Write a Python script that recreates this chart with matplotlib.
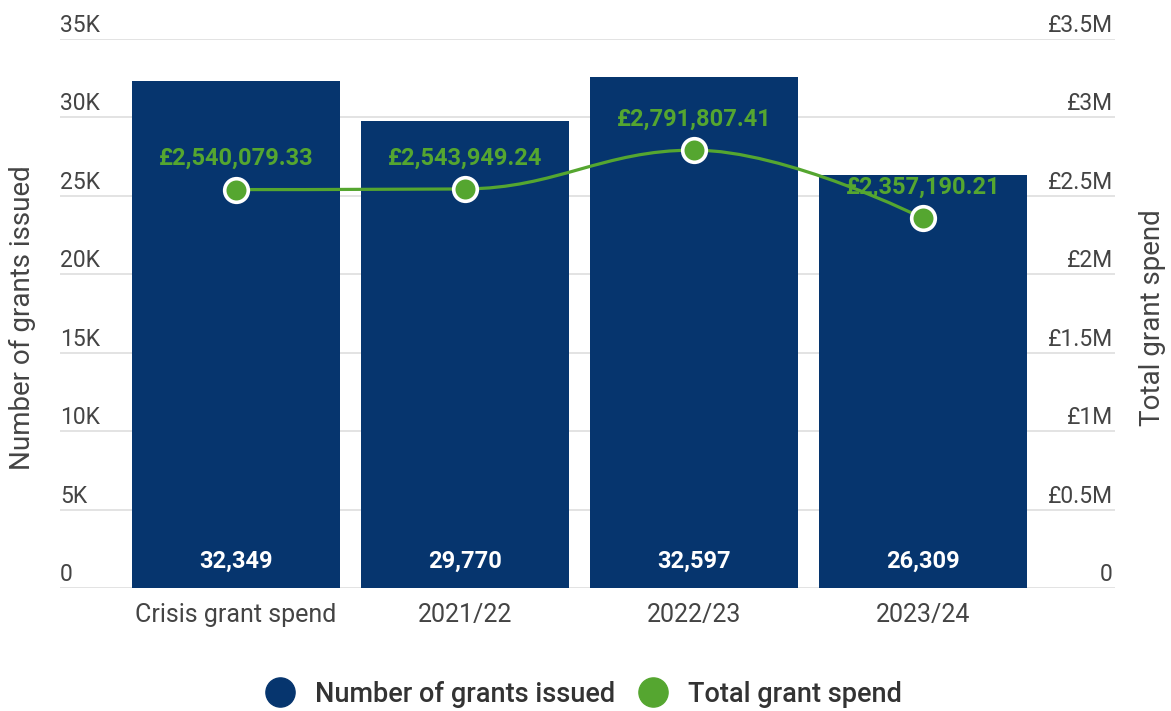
import numpy as np
import matplotlib.pyplot as plt
from matplotlib.path import Path
from matplotlib.patches import PathPatch
from matplotlib.lines import Line2D
import matplotlib.transforms as mtransforms

plt.rcParams['font.family'] = ['Roboto', 'DejaVu Sans']

categories = ['Crisis grant spend', '2021/22', '2022/23', '2023/24']
grants_issued = [32349, 29770, 32597, 26309]
grant_spend = [2540079.33, 2543949.24, 2791807.41, 2357190.21]

left_ticks = [0, 5000, 10000, 15000, 20000, 25000, 30000, 35000]
left_labels = ['0', '5K', '10K', '15K', '20K', '25K', '30K', '35K']
right_ticks = [0, 500000, 1000000, 1500000, 2000000, 2500000, 3000000, 3500000]
right_labels = ['0', '£0.5M', '£1M', '£1.5M', '£2M', '£2.5M', '£3M', '£3.5M']

BAR = '#06356e'
GREEN = '#55a630'
TXT = '#444444'


def spline_path(xs, ys, smoothing=1.5):
    # highcharts-style spline: control points through each point, no false extremes
    n = len(xs)
    lc = [(xs[i], ys[i]) for i in range(n)]
    rc = [(xs[i], ys[i]) for i in range(n)]
    d = smoothing + 1
    for i in range(1, n - 1):
        x, y = xs[i], ys[i]
        lx, ly = xs[i - 1], ys[i - 1]
        nx, ny = xs[i + 1], ys[i + 1]
        lcx = (smoothing * x + lx) / d
        lcy = (smoothing * y + ly) / d
        rcx = (smoothing * x + nx) / d
        rcy = (smoothing * y + ny) / d
        corr = (rcy - lcy) * (rcx - x) / (rcx - lcx) + y - rcy
        lcy += corr
        rcy += corr
        if lcy > ly and lcy > y:
            lcy = max(ly, y); rcy = 2 * y - lcy
        elif lcy < ly and lcy < y:
            lcy = min(ly, y); rcy = 2 * y - lcy
        if rcy > ny and rcy > y:
            rcy = max(ny, y); lcy = 2 * y - rcy
        elif rcy < ny and rcy < y:
            rcy = min(ny, y); lcy = 2 * y - rcy
        lc[i] = (lcx, lcy)
        rc[i] = (rcx, rcy)
    verts = [(xs[0], ys[0])]
    codes = [Path.MOVETO]
    for i in range(1, n):
        verts += [rc[i - 1], lc[i], (xs[i], ys[i])]
        codes += [Path.CURVE4] * 3
    return Path(verts, codes)


fig = plt.figure(figsize=(11.71, 7.11), dpi=100)
ax = fig.add_axes([60 / 1171, 1 - 588 / 711, 1055 / 1171, 549 / 711])
ax2 = ax.twinx()

x = np.arange(len(categories))
ax.bar(x, grants_issued, width=0.905, color=BAR, zorder=2)
ax.set_xlim(-0.769, 3.838)
ax.set_ylim(0, 35000)
ax2.set_ylim(0, 3500000)

for a in (ax, ax2):
    for s in a.spines.values():
        s.set_visible(False)
    a.set_yticks([])

ax.set_axisbelow(True)
for t in left_ticks:
    ax.axhline(t, color='#e0e0e0', lw=1.3, zorder=0)

off = mtransforms.offset_copy(ax.get_yaxis_transform(), fig=fig, x=0, y=5, units='points')
for t, lab in zip(left_ticks, left_labels):
    ax.text(0, t, lab, transform=off, ha='left', va='baseline', fontsize=16.5, color=TXT)
off2 = mtransforms.offset_copy(ax2.get_yaxis_transform(), fig=fig, x=0, y=5, units='points')
for t, lab in zip(right_ticks, right_labels):
    ax2.text(0.998, t, lab, transform=off2, ha='right', va='baseline', fontsize=16.5, color=TXT)

ax.set_xticks(x)
ax.set_xticklabels(categories, fontsize=18, color=TXT)
ax.tick_params(axis='x', length=0, pad=11)

for xi, v in zip(x, grants_issued):
    ax.text(xi, 1000, f'{v:,}', ha='center', va='bottom', fontsize=17,
            fontweight='bold', color='white', zorder=3)

ax2.add_patch(PathPatch(spline_path(list(x), grant_spend), fc='none', ec=GREEN, lw=2.3, zorder=3))
ax2.plot(x, grant_spend, 'o', ms=17, mfc=GREEN, mec='white', mew=2.6, zorder=4)
for xi, v in zip(x, grant_spend):
    ax2.annotate(f'£{v:,.2f}', (xi, v), xytext=(0, 14), textcoords='offset points',
                 ha='center', va='bottom', fontsize=17, fontweight='bold', color=GREEN, zorder=5)

fig.text(22 / 1171, 1 - 318 / 711, 'Number of grants issued', rotation=90,
         ha='center', va='center', fontsize=20, color=TXT)
fig.text(1152 / 1171, 1 - 318 / 711, 'Total grant spend', rotation=90,
         ha='center', va='center', fontsize=20, color=TXT)

handles = [Line2D([], [], ls='none', marker='o', ms=21, mfc=BAR, mec=BAR),
           Line2D([], [], ls='none', marker='o', ms=21, mfc=GREEN, mec=GREEN)]
fig.legend(handles, ['Number of grants issued', 'Total grant spend'], loc='center',
           bbox_to_anchor=(0.493, 1 - 694 / 711), ncol=2, frameon=False,
           prop={'size': 19.5, 'weight': 'medium'}, labelcolor='#333333',
           handletextpad=0.3, columnspacing=0.4)

fig.savefig('out.png', dpi=100)
